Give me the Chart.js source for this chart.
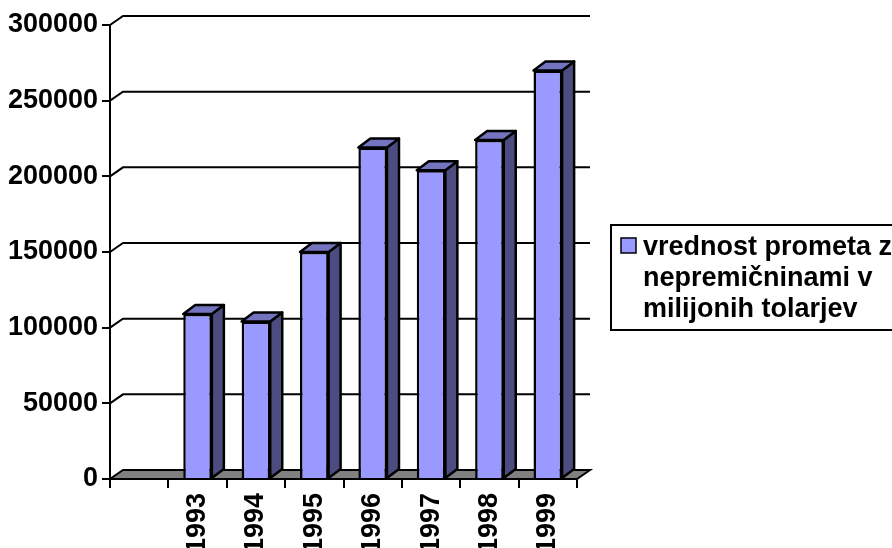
<!DOCTYPE html>
<html>
<head>
<meta charset="utf-8">
<title>Vrednost prometa z nepremičninami</title>
<script src="https://cdn.jsdelivr.net/npm/chart.js@4/dist/chart.umd.min.js"></script>
<style>
  html, body { margin: 0; padding: 0; background: #fff; }
  #wrap { width: 892px; height: 548px; }
</style>
</head>
<body>
<div id="wrap"><canvas id="c" width="892" height="548"></canvas></div>
<script>
// Years on the category axis (the first slot carries no label or value)
const years = ['', '1993', '1994', '1995', '1996', '1997', '1998', '1999'];
// Turnover value, in millions of tolars
const turnover = [null, 109000, 104000, 150000, 219000, 204000, 224000, 270000];
const seriesLabel = 'vrednost prometa z nepremičninami v milijonih tolarjev';
const legendLines = ['vrednost prometa z', 'nepremičninami v', 'milijonih tolarjev'];
const yTicks = { min: 0, max: 300000, step: 50000 };

const FONT = 'Arial, "Liberation Sans", sans-serif';
const FONT_SIZE = 27;
const FRONT = '#9999FF', TOP = '#7373BF', SIDE = '#4C4C80';
const WALL_DX = 13, WALL_DY = 9;   // depth of back wall / floor
const BAR_DX = 12, BAR_DY = 9;     // depth of each column
const BAR_LINE = 2.5;

// Floor, back-wall gridlines and the depth faces of the columns
const depthPlugin = {
  id: 'depth',
  beforeDatasetsDraw(chart) {
    const { ctx, chartArea: a, scales: { y } } = chart;
    ctx.save();
    ctx.lineWidth = 2;
    ctx.strokeStyle = '#000';
    ctx.lineJoin = 'miter';
    y.ticks.forEach(t => {
      if (t.value === 0) return;
      const py = y.getPixelForValue(t.value);
      ctx.beginPath();
      ctx.moveTo(a.left, py);
      ctx.lineTo(a.left + WALL_DX, py - WALL_DY);
      ctx.lineTo(a.right + WALL_DX, py - WALL_DY);
      ctx.stroke();
    });
    const by = y.getPixelForValue(0);
    ctx.beginPath();
    ctx.moveTo(a.left, by);
    ctx.lineTo(a.right, by);
    ctx.lineTo(a.right + WALL_DX, by - WALL_DY);
    ctx.lineTo(a.left + WALL_DX, by - WALL_DY);
    ctx.closePath();
    ctx.fillStyle = '#808080';
    ctx.fill();
    ctx.stroke();
    ctx.restore();
  },
  afterDatasetsDraw(chart) {
    const { ctx } = chart;
    const meta = chart.getDatasetMeta(0);
    ctx.save();
    ctx.lineWidth = BAR_LINE;
    ctx.strokeStyle = '#000';
    ctx.lineJoin = 'round';
    meta.data.forEach((bar, i) => {
      if (turnover[i] == null) return;
      const { x, y, base, width } = bar.getProps(['x', 'y', 'base', 'width'], true);
      if (!isFinite(y)) return;
      const l = x - width / 2, r = x + width / 2;
      // right side
      ctx.beginPath();
      ctx.moveTo(r, y);
      ctx.lineTo(r + BAR_DX, y - BAR_DY);
      ctx.lineTo(r + BAR_DX, base - BAR_DY);
      ctx.lineTo(r, base);
      ctx.closePath();
      ctx.fillStyle = SIDE;
      ctx.fill();
      ctx.stroke();
      // top
      ctx.beginPath();
      ctx.moveTo(l, y);
      ctx.lineTo(l + BAR_DX, y - BAR_DY);
      ctx.lineTo(r + BAR_DX, y - BAR_DY);
      ctx.lineTo(r, y);
      ctx.closePath();
      ctx.fillStyle = TOP;
      ctx.fill();
      ctx.stroke();
    });
    ctx.restore();
  }
};

// Boxed legend with wrapped series name
const legendPlugin = {
  id: 'boxLegend',
  afterDraw(chart) {
    const { ctx } = chart;
    ctx.save();
    ctx.lineWidth = 2;
    ctx.strokeStyle = '#000';
    ctx.fillStyle = '#fff';
    ctx.fillRect(611, 225, 300, 105);
    ctx.strokeRect(611, 225, 300, 105);
    ctx.fillStyle = FRONT;
    ctx.fillRect(621, 238, 15, 15);
    ctx.lineWidth = 1.5;
    ctx.strokeRect(621, 238, 15, 15);
    ctx.fillStyle = '#000';
    ctx.font = 'bold ' + FONT_SIZE + 'px ' + FONT;
    ctx.textAlign = 'left';
    ctx.textBaseline = 'alphabetic';
    legendLines.forEach((line, k) => ctx.fillText(line, 643, 255 + k * 31));
    ctx.restore();
  }
};

new Chart(document.getElementById('c'), {
  type: 'bar',
  data: {
    labels: years,
    datasets: [{
      label: seriesLabel,
      data: turnover,
      backgroundColor: FRONT,
      borderColor: '#000',
      borderWidth: BAR_LINE,
      borderSkipped: 'start',
      barPercentage: 0.49,
      categoryPercentage: 1
    }]
  },
  options: {
    responsive: false,
    animation: false,
    devicePixelRatio: 1,
    layout: { padding: { top: 25, right: 315, left: 0, bottom: 0 } },
    plugins: { legend: { display: false }, tooltip: { enabled: false } },
    scales: {
      x: {
        afterFit(scale) { scale.height = 69; },
        grid: { offset: true, drawOnChartArea: false, drawTicks: true, tickLength: 9, color: '#000', lineWidth: 2 },
        border: { display: true, color: '#000', width: 2 },
        ticks: {
          autoSkip: false, minRotation: 90, maxRotation: 90, padding: 5,
          color: '#000', font: { family: FONT, size: FONT_SIZE, weight: 'bold' }
        }
      },
      y: {
        min: yTicks.min, max: yTicks.max,
        afterFit(scale) { scale.width = 110; },
        grid: { drawOnChartArea: false, drawTicks: true, tickLength: 8, color: '#000', lineWidth: 2 },
        border: { display: true, color: '#000', width: 2 },
        ticks: {
          stepSize: yTicks.step, padding: 4,
          callback: v => String(v),
          color: '#000', font: { family: FONT, size: FONT_SIZE, weight: 'bold' }
        }
      }
    }
  },
  plugins: [depthPlugin, legendPlugin]
});
</script>
</body>
</html>
